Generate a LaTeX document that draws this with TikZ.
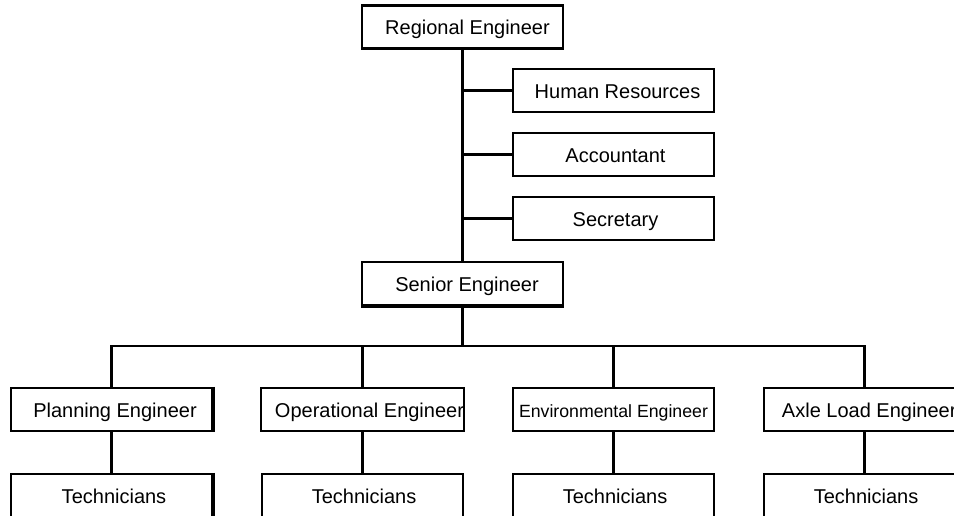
\documentclass[tikz,border=0pt]{standalone}
\usepackage{fontspec}
\setmainfont{Liberation Sans}
\begin{document}
\begin{tikzpicture}[x=1pt,y=-1pt,
  orgbox/.style={draw=black, line width=2.3pt, fill=white,
    minimum width=201pt, minimum height=43pt, inner sep=0pt,
    text height=15.5pt, text depth=0pt,
    font=\fontsize{20}{24}\selectfont},
  link/.style={draw=black, line width=2.3pt},
  heavy/.style={draw=black, line width=4pt}]
\newcommand\orgtext[2][8pt]{\hspace*{#1}#2}
\useasboundingbox (0,0) rectangle (954,515);
\clip (0,0) rectangle (954,515);

% head office
\node[orgbox] (reg) at (462.5,27) {\orgtext[10pt]{Regional Engineer}};
\node[orgbox] (hr)  at (613.5,90.5) {\orgtext{Human Resources}};
\node[orgbox] (acc) at (613.5,154.5) {\orgtext[4pt]{Accountant}};
\node[orgbox] (sec) at (613.5,218.5) {\orgtext[4pt]{Secretary}};
\node[orgbox] (sen) at (462.5,283.5) {\orgtext[9pt]{Senior Engineer}};

% engineering sections
\node[orgbox] (pl) at (111.5,409.5) {\orgtext[7pt]{Planning Engineer}};
\node[orgbox] (op) at (362.5,409.5) {\orgtext[14pt]{Operational Engineer}};
\node[orgbox, font=\fontsize{17.7}{21}\selectfont] (en) at (613.5,409.5) {\orgtext[0pt]{Environmental Engineer}};
\node[orgbox] (ax) at (864.5,409.5) {\orgtext[9.5pt]{Axle Load Engineer}};

% technicians
\node[orgbox] (t1) at (111.5,495.5) {\orgtext[5pt]{Technicians}};
\node[orgbox] (t2) at (362.5,495.5) {\orgtext[3pt]{Technicians}};
\node[orgbox] (t3) at (613.5,495.5) {\orgtext[3pt]{Technicians}};
\node[orgbox] (t4) at (864.5,495.5) {\orgtext[3pt]{Technicians}};

% main spine and staff branches
\draw[link] (reg.south) -- (sen.north);
\draw[line width=3.2pt] (reg.south |- hr.west) -- (hr.west);
\draw[link] (reg.south |- acc.west) -- (acc.west);
\draw[link] (reg.south |- sec.west) -- (sec.west);

% bus to the sections
\coordinate (bus) at (462.5,346);
\draw[link] (sen.south) -- (bus);
\draw[link] (pl.north) |- (bus) -| (ax.north);
\draw[link] (op.north) -- (op.north |- bus);
\draw[link] (en.north) -- (en.north |- bus);

% sections to technicians
\draw[link] (pl.south) -- (t1.north);
\draw[link] (op.south) -- (t2.north);
\draw[link] (en.south) -- (t3.north);
\draw[link] (ax.south) -- (t4.north);

% heavier edges
\draw[heavy] (sen.south west) -- (sen.south east);
\draw[heavy] (pl.north east) -- (pl.south east);
\draw[heavy] (t1.north east) -- (t1.south east);
\end{tikzpicture}
\end{document}
